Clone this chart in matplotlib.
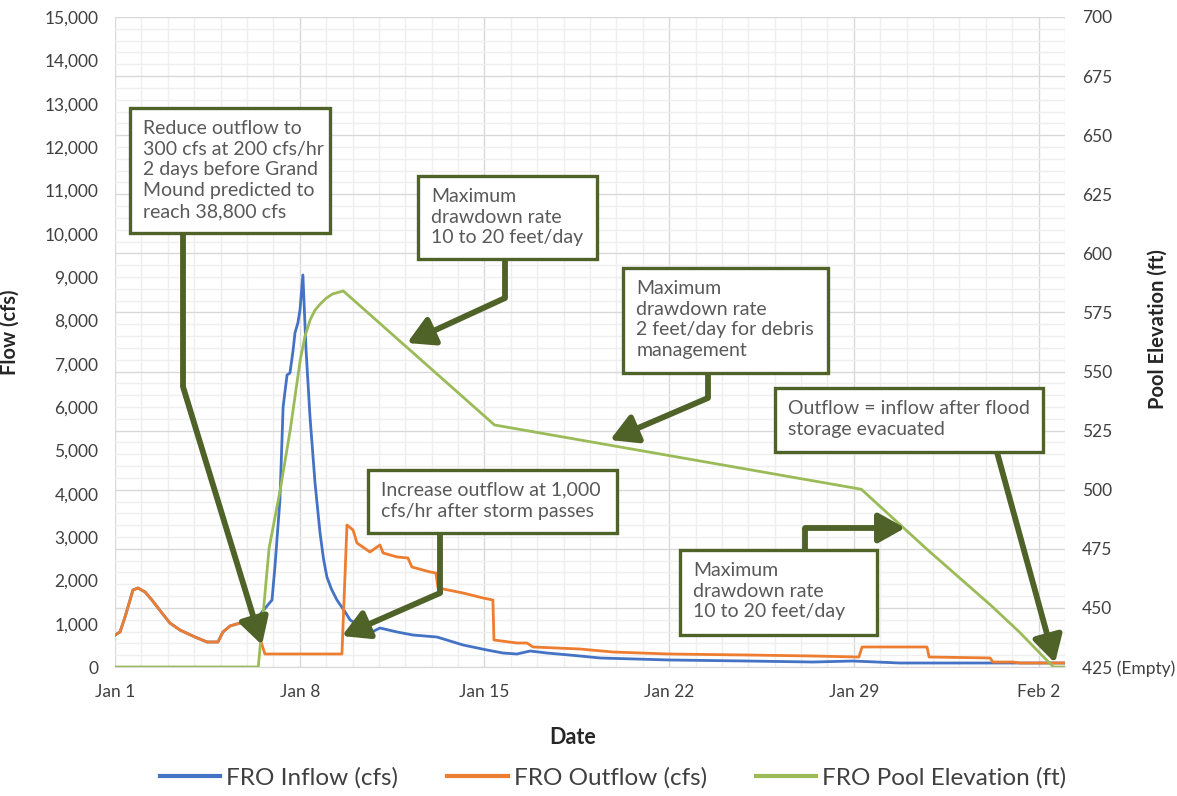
import matplotlib.pyplot as plt
from matplotlib.patches import Rectangle
from matplotlib.lines import Line2D

plt.rcParams['font.family'] = ['Lato', 'DejaVu Sans']

# days after Jan 1 / flow in cfs
out_days = [0.00, 0.19, 0.38, 0.57, 0.68, 0.87, 1.14, 1.40, 1.78, 2.08, 2.46, 3.03, 3.49, 3.90,
            4.09, 4.36, 4.74, 5.00, 5.23, 5.42, 5.68, 8.60, 8.79, 9.02, 9.17, 9.66, 10.04, 10.16,
            10.69, 11.10, 11.25, 11.94, 12.16, 12.24, 13.19, 13.95, 14.32, 14.36, 15.23, 15.61,
            15.84, 17.62, 18.87, 20.99, 23.95, 26.45, 28.19, 28.31, 30.77, 30.85, 33.16, 33.27,
            34.03, 34.29, 36.00]
outflow = [738, 808, 1154, 1546, 1777, 1823, 1731, 1546, 1246, 1015, 854, 692, 577, 577,
           808, 946, 1015, 970, 900, 808, 300, 300, 3277, 3162, 2862, 2654, 2816, 2631,
           2539, 2516, 2308, 2193, 2170, 1823, 1708, 1592, 1546, 623, 554, 554,
           462, 415, 346, 300, 277, 254, 231, 462, 462, 231, 208, 115,
           115, 92, 92]

in_days = [0.00, 0.19, 0.38, 0.57, 0.68, 0.87, 1.14, 1.40, 1.78, 2.08, 2.46, 3.03, 3.49, 3.90,
           4.09, 4.36, 4.74, 5.00, 5.23, 5.57, 5.95, 6.06, 6.25, 6.37, 6.52, 6.63, 6.75, 6.82,
           6.93, 7.01, 7.12, 7.16, 7.24, 7.39, 7.58, 7.77, 7.90, 8.03, 8.20, 8.41, 8.72, 8.91,
           9.40, 9.74, 10.04, 10.69, 11.29, 12.20, 13.19, 14.10, 14.70, 15.23, 15.73, 16.37,
           17.62, 18.38, 20.99, 23.95, 26.45, 27.97, 29.75, 36.00]
inflow = [738, 808, 1154, 1546, 1777, 1823, 1731, 1546, 1246, 1015, 854, 692, 577, 577,
          808, 946, 1015, 970, 1000, 1270, 1546, 2308, 3854, 6000, 6740, 6785, 7316, 7708,
          7940, 8240, 9047, 8470, 7316, 5770, 4246, 3093, 2500, 2077, 1800, 1546, 1270, 1085,
          900, 808, 900, 808, 738, 692, 508, 392, 323, 300, 369, 323,
          254, 208, 162, 138, 115, 138, 92, 92]

pool_days = [0.00, 5.43, 5.84, 6.26, 6.64, 7.02, 7.20, 7.40, 7.58, 7.78, 8.00, 8.24, 8.65, 14.38,
             28.28, 30.80, 33.20, 34.27, 35.56, 36.00]
pool_elev = [425, 425, 475.3, 499.9, 525.3, 554.9, 565.0, 572.0, 576.0, 578.6, 581.0, 582.8, 584.1,
             527.4, 500.2, 474.5, 451.0, 439.8, 425, 425]

date_ticks = [0, 7, 14, 21, 28, 35]
date_labels = ['Jan 1', 'Jan 8', 'Jan 15', 'Jan 22', 'Jan 29', 'Feb 2']
flow_ticks = list(range(0, 15001, 1000))
elev_ticks = list(range(425, 701, 25))
elev_labels = ['425 (Empty)'] + [str(e) for e in elev_ticks[1:]]

# callouts: box (x0, y0, x1, y1), text, leader path from box edge, arrow tip (days, cfs)
notes = [
    ((0.57, 10015, 8.15, 12900),
     'Reduce outflow to\n300 cfs at 200 cfs/hr\n2 days before Grand\nMound predicted to\nreach 38,800 cfs',
     [(2.58, 10015), (2.58, 6462)], (5.57, 508)),
    ((11.48, 9415, 18.27, 11331), 'Maximum\ndrawdown rate\n10 to 20 feet/day',
     [(14.78, 9415), (14.78, 8515)], (11.07, 7477)),
    ((19.25, 6785, 27.02, 9208), 'Maximum\ndrawdown rate\n2 feet/day for debris\nmanagement',
     [(22.47, 6785), (22.47, 6208)], (18.76, 5238)),
    ((25.01, 4962, 35.17, 6438), 'Outflow = inflow after flood\nstorage evacuated',
     [(33.42, 4962)], (35.62, 92)),
    ((9.59, 3092, 19.02, 4546), 'Increase outflow at 1,000\ncfs/hr after storm passes',
     [(12.32, 3092), (12.32, 1708)], (8.60, 715)),
    ((21.41, 738, 28.88, 2700), 'Maximum\ndrawdown rate\n10 to 20 feet/day',
     [(26.15, 2700), (26.15, 3208)], (29.94, 3208)),
]

blue = '#4472c4'
orange = '#ed7d31'
green = '#9bbb59'
olive = '#4f6228'
txt = '#404040'

fig = plt.figure(figsize=(11.77, 7.96), dpi=100)
ax = fig.add_axes([115 / 1177, 1 - 667 / 796, 950 / 1177, 650 / 796])
ax.set_xlim(0, 36)
ax.set_ylim(0, 15000)

# gridlines follow the pool elevation axis horizontally, days vertically
def elev_to_flow(e):
    return (e - 425) / 275 * 15000

for d in range(0, 37):
    major = d % 7 == 0
    ax.axvline(d, color='#d9d9d9' if major else '#efefef', lw=1.0, zorder=0)
for e in range(425, 701, 5):
    major = (e - 425) % 25 == 0
    ax.axhline(elev_to_flow(e), color='#d9d9d9' if major else '#efefef', lw=1.0, zorder=0)

ax.plot(in_days, inflow, color=blue, lw=2.0, zorder=3)
ax.plot(out_days, outflow, color=orange, lw=2.0, zorder=4)

ax.set_xticks(date_ticks)
ax.set_xticklabels(date_labels)
ax.set_yticks(flow_ticks)
ax.set_yticklabels([f'{v:,}' for v in flow_ticks])
ax.tick_params(length=0, labelsize=12.5, colors=txt, pad=12)
for s in ax.spines.values():
    s.set_visible(False)
ax.spines['bottom'].set_visible(True)
ax.spines['bottom'].set_color('#d9d9d9')
ax.set_xlabel('Date', fontsize=15.5, fontweight='bold', color='#262626')
ax.xaxis.set_label_coords((573 - 115) / 950, -(727 - 667) / 650)
ax.set_ylabel('Flow (cfs)', fontsize=14.5, fontweight='bold', color='#262626')
ax.yaxis.set_label_coords((20 - 115) / 950, 0.515)

ax2 = ax.twinx()
ax2.set_ylim(425, 700)
ax2.plot(pool_days, pool_elev, color=green, lw=2.0, zorder=5)
ax2.set_yticks(elev_ticks)
ax2.set_yticklabels(elev_labels)
ax2.tick_params(length=0, labelsize=12.5, colors=txt, pad=12)
for s in ax2.spines.values():
    s.set_visible(False)
ax2.set_ylabel('Pool Elevation (ft)', fontsize=14.5, fontweight='bold', color='#262626')
ax2.yaxis.set_label_coords((1148 - 115) / 950, 0.52)

tr = ax.transData
for (x0, y0, x1, y1), label, path, tip in notes:
    ax2.add_patch(Rectangle((x0, y0), x1 - x0, y1 - y0, transform=tr, facecolor='white',
                            edgecolor=olive, lw=2.4, zorder=10, clip_on=False))
    ax2.annotate(label, xy=(x0, y1), xycoords=tr, xytext=(9.5, -8.5), textcoords='offset points',
                 ha='left', va='top', fontsize=14, color='#595959', linespacing=1.27, zorder=11)
    if len(path) > 1:
        ax2.plot([p[0] for p in path], [p[1] for p in path], transform=tr, color=olive, lw=4.2,
                 solid_capstyle='butt', solid_joinstyle='miter', zorder=9, clip_on=False)
    ax2.annotate('', xy=tip, xycoords=tr, xytext=path[-1], textcoords=tr, zorder=9,
                 arrowprops=dict(arrowstyle='-|>,head_length=0.8,head_width=0.45', mutation_scale=20,
                                 lw=4.2, color=olive, shrinkA=0, shrinkB=0))

handles = [Line2D([], [], color=blue, lw=3), Line2D([], [], color=orange, lw=3),
           Line2D([], [], color=green, lw=3)]
fig.legend(handles, ['FRO Inflow (cfs)', 'FRO Outflow (cfs)', 'FRO Pool Elevation (ft)'],
           loc='center', bbox_to_anchor=(613 / 1177, 1 - 778 / 796), ncol=3, frameon=False,
           fontsize=17.5, handlelength=2.5, handletextpad=0.25, columnspacing=2.0, labelcolor=txt)

fig.savefig('out.png', dpi=100)
